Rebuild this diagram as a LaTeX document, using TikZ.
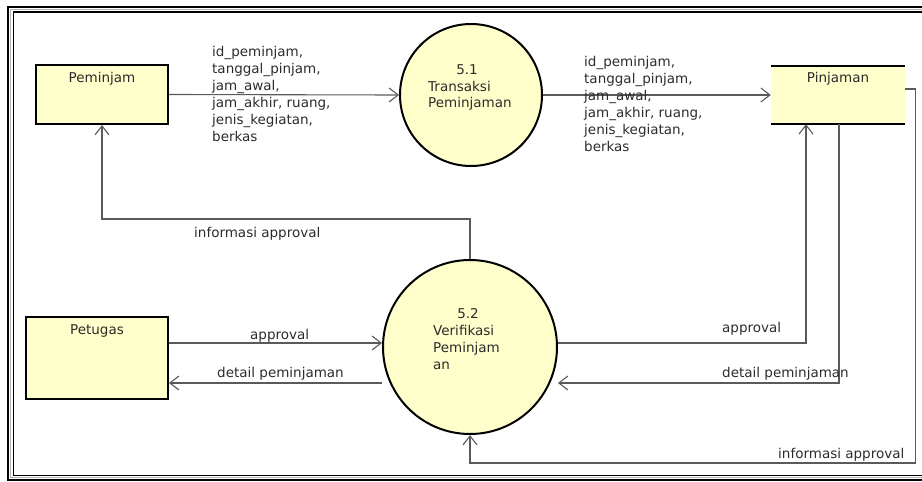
\documentclass[tikz,border=0pt]{standalone}
\usepackage{fontspec}
\setmainfont{DejaVu Sans}
\usetikzlibrary{arrows.meta,calc}

\definecolor{boxfill}{HTML}{FFFFCC}
\definecolor{flowgray}{HTML}{5A5A5A}
\definecolor{txt}{HTML}{2B2B2B}

\tikzset{
  extbox/.style={draw=black, line width=2pt, fill=boxfill, rectangle, inner sep=0pt},
  procbox/.style={draw=black, line width=2pt, fill=boxfill, circle, inner sep=0pt},
  storebox/.style={fill=boxfill, rectangle, inner sep=0pt},
  flow/.style={draw=flowgray, line width=1.1pt, -{Straight Barb[length=9pt,width=14pt,line width=1.1pt]}},
  lbl/.style={text=txt, inner sep=0pt, font=\fontsize{13.5}{17}\selectfont},
  datalbl/.style={lbl, align=left, anchor=north west},
}

\begin{document}
\begin{tikzpicture}[x=1pt, y=-1pt]
\useasboundingbox (0,0) rectangle (922,482);
\clip (0,0) rectangle (922,482);

% double page frame (open on the right)
\draw[line width=2pt] (8,6.5) rectangle (960,479.5);
\draw[gray!60, line width=1pt] (10.8,9) rectangle (958,477.5);
\draw[line width=1.8pt] (13.5,11.8) rectangle (955,475.5);

% external entities
\node[extbox, minimum width=132pt, minimum height=59pt] (pem) at (102,94.5) {};
\node[lbl, anchor=base] (pemtxt) at ($(pem.north)+(0,18)$) {Peminjam};

\node[extbox, minimum width=142pt, minimum height=82pt] (pet) at (97,358) {};
\node[lbl, anchor=base] (pettxt) at ($(pet.north)+(0,18)$) {Petugas};

% data store
\node[storebox, minimum width=134pt, minimum height=58pt] (pin) at (838,95) {};
\draw[line width=2pt] (pin.north west) -- (pin.north east);
\draw[line width=2pt] (pin.south west) -- (pin.south east);
\node[lbl, anchor=base] (pintxt) at ($(pin.north)+(0,17)$) {Pinjaman};

% processes
\node[procbox, minimum size=142pt] (p1) at (471,95) {};
\node[lbl, anchor=base] (p1num) at (467,74) {5.1};
\node[lbl, anchor=base west] (p1a) at (428,91) {Transaksi};
\node[lbl, anchor=base west] (p1b) at (428,107.5) {Peminjaman};

\node[procbox, minimum size=174pt] (p2) at (470,347) {};
\node[lbl, anchor=base] (p2num) at (468,318) {5.2};
\node[lbl, anchor=base west] (p2a) at (433,335) {Verifikasi};
\node[lbl, anchor=base west] (p2b) at (433,352) {Peminjam};
\node[lbl, anchor=base west] (p2c) at (433,369) {an};

% data flows
\draw[flow] (pem.east) -- (p1.west);
\draw[flow] (p1.east) -- (pin.west);
\draw[flow] (p2.north) -- ++(0,-40) -| (pem.south);
\draw[flow] ($(pet.east)+(0,-15)$) -- ($(p2.west)+(0,-4)$);
\draw[flow] ($(p2.west)+(0,36)$) -- ($(pet.east)+(0,25)$);
\draw[flow] ($(p2.east)+(0,-4)$) -| ($(pin.south)+(-32,0)$);
\draw[flow] ($(pin.south)+(1,0)$) |- ($(p2.east)+(0,36)$);
\draw[flow] ($(pin.east)+(0,-6)$) -| ($(pin.east)+(10,368)$) -| (p2.south);

% flow labels
\node[datalbl] (l1) at (212,46.5) {id\_peminjam,\\tanggal\_pinjam,\\jam\_awal,\\jam\_akhir, ruang,\\jenis\_kegiatan,\\berkas};
\node[datalbl] (l2) at (584,56.5) {id\_peminjam,\\tanggal\_pinjam,\\jam\_awal,\\jam\_akhir, ruang,\\jenis\_kegiatan,\\berkas};
\node[lbl, anchor=base west] (l3) at (194,237) {informasi approval};
\node[lbl, anchor=base west] (l4) at (250,339.5) {approval};
\node[lbl, anchor=base west] (l5) at (217,377) {detail peminjaman};
\node[lbl, anchor=base west] (l6) at (722,332) {approval};
\node[lbl, anchor=base west] (l7) at (722,377) {detail peminjaman};
\node[lbl, anchor=base west] (l8) at (778,458) {informasi approval};
\end{tikzpicture}
\end{document}
